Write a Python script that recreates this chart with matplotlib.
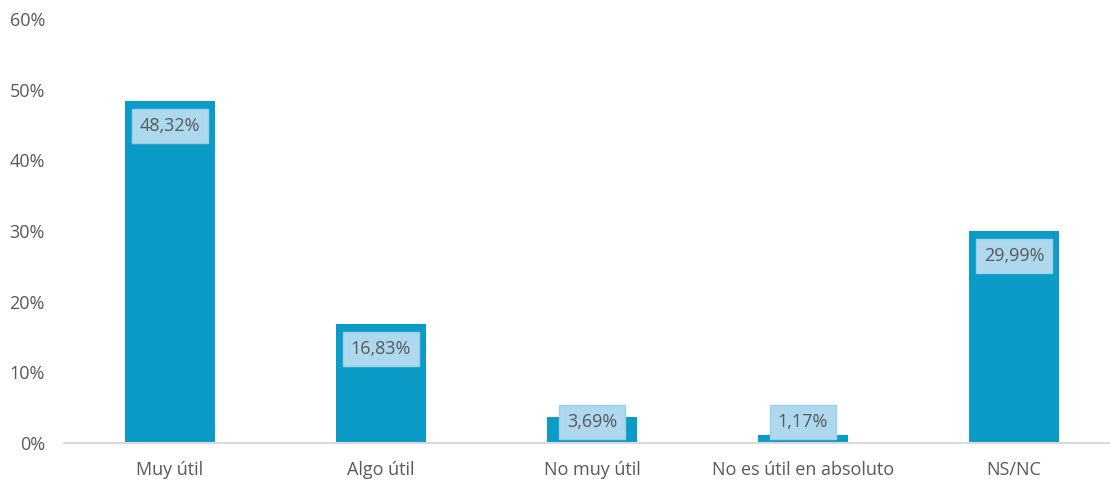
import matplotlib
matplotlib.use("Agg")
import matplotlib.pyplot as plt
from matplotlib.ticker import FuncFormatter

categories = ["Muy útil", "Algo útil", "No muy útil", "No es útil en absoluto", "NS/NC"]
values = [48.32, 16.83, 3.69, 1.17, 29.99]

plt.rcParams["font.family"] = ["Open Sans", "DejaVu Sans"]
TEXT = "#595959"

fig = plt.figure(figsize=(11.1, 4.83), dpi=100)
# axes run a little past the right edge, like the Excel plot area
ax = fig.add_axes([0.058, 0.083, 0.9505, 0.878])

x = range(len(categories))
ax.bar(x, values, width=0.43, color="#0A9CC7", zorder=2)

for i, v in enumerate(values):
    # Excel-style "inside end" label, clamped so it stays above the axis
    y = max(v - 3.5, 3.0)
    ax.text(i, y, f"{v:.2f}%".replace(".", ","), ha="center", va="center",
            fontsize=13, color=TEXT, zorder=3,
            bbox=dict(boxstyle="square,pad=0.45", fc="#ADD8EE", ec="#9FCFE8", lw=1))

ax.set_xlim(-0.5, len(categories) - 0.5)
ax.set_ylim(0, 60)
ax.set_yticks(range(0, 61, 10))
ax.yaxis.set_major_formatter(FuncFormatter(lambda v, _: f"{v:.0f}%"))
ax.set_xticks(list(x))
ax.set_xticklabels(categories)
ax.tick_params(axis="both", length=0, labelsize=13, labelcolor=TEXT)
ax.tick_params(axis="x", pad=13)
ax.tick_params(axis="y", pad=14)

for s in ("top", "right", "left"):
    ax.spines[s].set_visible(False)
ax.spines["bottom"].set_color("#D9D9D9")
ax.spines["bottom"].set_linewidth(1.5)

fig.savefig("out.png", dpi=100)
